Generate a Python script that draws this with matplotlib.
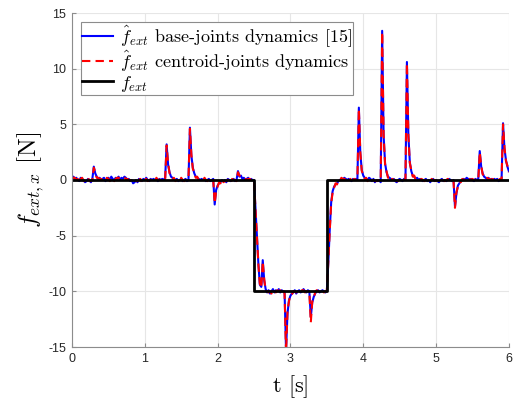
import numpy as np
import matplotlib
matplotlib.use('Agg')
import matplotlib.pyplot as plt

plt.rcParams['mathtext.fontset'] = 'cm'
plt.rcParams['axes.unicode_minus'] = False
plt.rcParams['font.family'] = ['Liberation Sans', 'DejaVu Sans']

# sampling grid 0..6 s, dt = 0.02
t = np.arange(301) * 0.02

# estimated f_ext (base-joints dynamics)
f_base = [
    0.2, 0.3, 0.1, 0.2, 0.0, -0.1, 0.2, 0.1, 0.0, -0.2,
    -0.1, 0.1, 0.0, -0.2, 0.1, 1.2, 0.6, 0.3, 0.1, 0.2,
    0.0, 0.1, 0.2, -0.1, 0.1, 0.2, 0.0, 0.3, 0.1, 0.0,
    0.2, 0.1, 0.3, 0.0, 0.2, 0.1, 0.3, 0.2, 0.0, 0.1,
    -0.1, 0.0, -0.3, -0.2, 0.0, -0.2, 0.1, 0.0, -0.1, 0.1,
    0.0, 0.2, 0.0, -0.1, 0.1, 0.0, 0.1, 0.0, 0.1, -0.1,
    0.1, 0.0, 0.1, 0.0, 0.2, 3.2, 1.4, 0.7, 0.3, 0.2,
    0.1, 0.0, 0.1, -0.1, 0.0, 0.1, -0.1, 0.0, 0.1, -0.1,
    0.0, 4.7, 2.2, 1.1, 0.6, 0.3, 0.2, 0.1, 0.0, 0.1,
    0.0, 0.1, -0.1, 0.0, 0.1, -0.1, 0.0, 0.1, -2.2, -0.9,
    -0.5, -0.3, -0.2, 0.0, -0.1, 0.0, -0.2, 0.1, 0.0, -0.1,
    0.0, 0.1, -0.1, 0.0, 0.8, 0.3, 0.4, 0.1, 0.2, 0.0,
    0.1, 0.2, 0.0, 0.1, 0.0, 0.0, -2.5, -5.1, -7.5, -9.4,
    -9.6, -7.2, -9.0, -9.8, -10.1, -9.9, -10.2, -10.0, -9.8, -10.1,
    -9.9, -10.0, -9.8, -10.1, -9.9, -10.0, -10.1, -15.3, -12.0, -10.8,
    -10.4, -10.2, -10.1, -9.9, -10.2, -10.0, -9.9, -10.1, -10.0, -9.8,
    -10.0, -10.1, -9.9, -10.0, -12.3, -11.0, -10.5, -10.2, -10.0, -9.9,
    -10.1, -10.0, -9.9, -10.0, -10.1, -10.0, -7.5, -4.5, -2.0, -1.0,
    -0.6, -0.4, -0.3, -0.1, 0.0, 0.1, 0.0, 0.2, 0.1, 0.0,
    0.1, 0.0, -0.1, 0.1, 0.0, 0.1, 0.0, 6.5, 2.4, 0.9,
    0.4, 0.2, 0.1, 0.0, 0.2, 0.1, -0.1, 0.1, -0.2, 0.0,
    -0.1, 0.0, -0.2, 13.4, 4.0, 1.5, 0.7, 0.3, 0.2, 0.1,
    0.0, 0.1, -0.1, -0.2, 0.0, 0.1, 0.0, -0.1, 0.1, 0.0,
    10.6, 4.0, 1.6, 0.8, 0.4, 0.3, 0.1, 0.2, 0.0, 0.1,
    0.0, -0.1, 0.0, 0.1, -0.1, 0.0, -0.2, 0.0, 0.1, -0.1,
    0.0, -0.1, -0.2, 0.0, 0.1, -0.1, 0.0, -0.1, 0.0, 0.1,
    0.0, -0.1, 0.0, -2.4, -1.2, -0.5, -0.3, -0.1, 0.0, 0.1,
    0.0, 0.2, 0.1, 0.0, 0.1, 0.0, -0.1, 0.1, 0.0, 0.1,
    2.6, 1.2, 0.6, 0.3, 0.2, 0.1, 0.2, 0.0, 0.1, 0.0,
    0.1, 0.0, 0.1, -0.1, 0.0, 0.1, 5.1, 2.8, 1.8, 1.2,
    0.8,
]

# estimated f_ext (centroid-joints dynamics)
f_centroid = [
    0.1, 0.2, 0.2, 0.0, 0.1, -0.2, 0.1, 0.2, -0.1, -0.1,
    0.0, 0.2, -0.1, -0.1, 0.0, 1.1, 0.7, 0.2, 0.2, 0.1,
    0.1, 0.0, 0.1, 0.0, 0.2, 0.1, -0.1, 0.2, 0.2, -0.1,
    0.1, 0.2, 0.2, 0.1, 0.1, 0.2, 0.2, 0.1, 0.1, 0.0,
    0.0, -0.1, -0.2, -0.1, -0.1, -0.1, 0.0, 0.1, -0.2, 0.0,
    0.1, 0.1, -0.1, 0.0, 0.0, 0.1, 0.0, -0.1, 0.2, 0.0,
    0.0, 0.1, 0.0, 0.1, 0.1, 3.1, 1.5, 0.6, 0.4, 0.1,
    0.2, -0.1, 0.0, 0.0, -0.1, 0.2, 0.0, -0.1, 0.0, 0.0,
    0.1, 4.6, 2.3, 1.0, 0.7, 0.2, 0.3, 0.0, 0.1, 0.0,
    -0.1, 0.2, 0.0, -0.1, 0.0, 0.0, -0.1, 0.0, -2.1, -1.0,
    -0.6, -0.2, -0.3, 0.1, -0.2, -0.1, -0.1, 0.0, 0.1, -0.2,
    0.1, 0.0, 0.0, -0.1, 0.7, 0.4, 0.3, 0.2, 0.1, 0.1,
    0.0, 0.1, 0.1, 0.0, 0.1, 0.0, -2.6, -5.0, -7.6, -9.3,
    -9.7, -7.3, -8.9, -9.9, -10.0, -10.1, -10.0, -10.2, -9.9, -10.0,
    -10.1, -9.9, -10.0, -9.9, -10.1, -9.9, -10.2, -15.5, -11.8, -10.9,
    -10.3, -10.3, -10.0, -10.0, -10.1, -9.9, -10.0, -10.0, -9.9, -9.9,
    -10.1, -10.0, -10.0, -10.1, -12.8, -10.9, -10.6, -10.1, -9.9, -10.0,
    -10.0, -9.9, -10.0, -10.1, -10.0, -10.0, -7.4, -4.6, -2.1, -1.1,
    -0.7, -0.3, -0.4, 0.0, -0.1, 0.2, 0.1, 0.1, 0.0, 0.1,
    0.0, 0.1, 0.0, 0.0, 0.1, 0.0, 0.1, 6.4, 2.5, 0.8,
    0.5, 0.1, 0.2, -0.1, 0.1, 0.2, 0.0, 0.0, -0.1, -0.1,
    0.0, -0.1, -0.1, 13.3, 4.1, 1.4, 0.8, 0.2, 0.3, 0.0,
    0.1, 0.0, 0.0, -0.1, -0.1, 0.0, 0.1, 0.0, 0.0, 0.1,
    10.5, 4.1, 1.5, 0.9, 0.3, 0.4, 0.0, 0.1, 0.1, 0.0,
    0.1, 0.0, -0.1, 0.0, 0.0, -0.1, -0.1, 0.1, 0.0, 0.0,
    -0.1, 0.0, -0.1, -0.1, 0.0, 0.0, -0.1, 0.0, 0.1, 0.0,
    0.1, 0.0, -0.1, -2.5, -1.1, -0.6, -0.2, -0.2, 0.1, 0.0,
    0.1, 0.1, 0.0, 0.1, 0.0, 0.1, 0.0, 0.0, 0.1, 0.0,
    2.5, 1.3, 0.5, 0.4, 0.1, 0.2, 0.1, 0.1, 0.0, 0.1,
    0.0, 0.1, 0.0, 0.0, 0.1, 0.0, 5.0, 2.9, 1.7, 1.3,
    0.7,
]

# true external force (step)
t_true = [0.0, 2.5, 2.5, 3.5, 3.5, 6.0]
f_true = [0.0, 0.0, -10.0, -10.0, 0.0, 0.0]

xticks = [0, 1, 2, 3, 4, 5, 6]
yticks = [-15, -10, -5, 0, 5, 10, 15]

fig = plt.figure(figsize=(5.14, 4.0), dpi=100)
ax = fig.add_axes([0.140, 0.1325, 0.850, 0.835])

ax.plot(t, f_base, color='#0000ff', lw=1.5,
        label=r'$\hat{f}_{ext}$ base-joints dynamics [15]')
ax.plot(t, f_centroid, color='#ff0000', lw=1.5, dashes=(4, 2.5),
        label=r'$\hat{f}_{ext}$ centroid-joints dynamics')
ax.plot(t_true, f_true, color='black', lw=2.0, label=r'$f_{ext}$')

ax.set_xlim(0, 6)
ax.set_ylim(-15, 15)
ax.set_xticks(xticks)
ax.set_yticks(yticks)
ax.grid(True, color='#e6e6e6', lw=0.8)
ax.set_axisbelow(True)
for s in ['top', 'right']:
    ax.spines[s].set_visible(False)
for s in ['left', 'bottom']:
    ax.spines[s].set_color('#8c8c8c')
ax.tick_params(direction='in', length=3, color='#8c8c8c', labelsize=9,
               labelcolor='#262626', pad=4)

ax.set_xlabel(r't $[\mathrm{s}]$', family='cmr10', fontsize=16)
ax.set_ylabel(r'$f_{ext,x}$ $[\mathrm{N}]$', family='cmr10', fontsize=18)
ax.xaxis.set_label_coords(0.5, -0.078)
ax.yaxis.set_label_coords(-0.06, 0.5)

leg = ax.legend(loc='upper left', prop={'family': 'cmr10', 'size': 13},
                handlelength=1.7, handletextpad=0.4, labelspacing=0.0,
                borderpad=0.05, borderaxespad=0.5, fancybox=False,
                framealpha=1)
leg.get_frame().set_edgecolor('#8c8c8c')
leg.get_frame().set_linewidth(0.8)

fig.savefig('out.png', dpi=100)
